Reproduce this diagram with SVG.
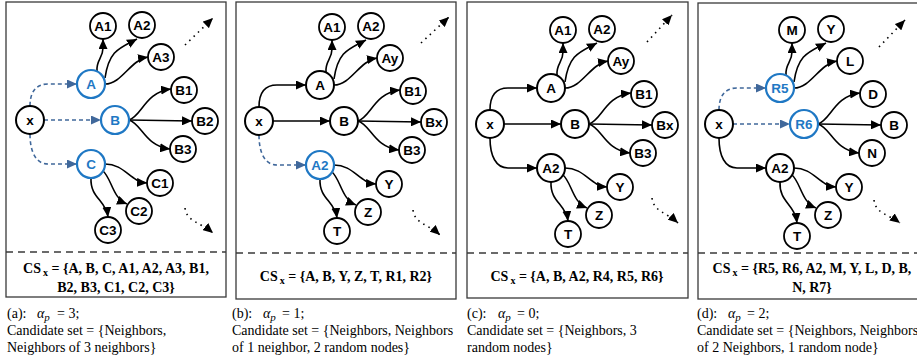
<svg xmlns="http://www.w3.org/2000/svg" width="917" height="360" viewBox="0 0 917 360">
<defs>
<marker id="ah" markerUnits="userSpaceOnUse" markerWidth="11" markerHeight="9" refX="10" refY="4.5" orient="auto"><path d="M0,0 L10,4.5 L0,9 z" fill="#000"/></marker>
<marker id="ahb" markerUnits="userSpaceOnUse" markerWidth="11" markerHeight="9" refX="10" refY="4.5" orient="auto"><path d="M0,0 L10,4.5 L0,9 z" fill="#40689b"/></marker>
</defs>
<style>
.box{fill:none;stroke:#3a3a3a;stroke-width:1.3}
.sep{stroke:#3a3a3a;stroke-width:1.3;stroke-dasharray:7,5}
.n circle{fill:#fff;stroke:#000;stroke-width:1.8}
.m circle{stroke-width:2}
.bl circle{stroke:#1f78c4;stroke-width:2.2}
.n text{font-family:"Liberation Sans",Arial,sans-serif;font-weight:bold;font-size:13.5px;text-anchor:middle;fill:#000}
.bl text{fill:#1f78c4}
.e{fill:none;stroke:#000;stroke-width:1.6;marker-end:url(#ah)}
.d{fill:none;stroke:#40689b;stroke-width:1.6;stroke-dasharray:4,3;marker-end:url(#ahb)}
.dot{fill:none;stroke:#000;stroke-width:1.6;stroke-dasharray:1.5,4.5;marker-end:url(#ah)}
.cs{font-family:"Liberation Serif","Times New Roman",serif;font-weight:bold;font-size:14px;text-anchor:middle}
.cap{font-family:"Liberation Serif","Times New Roman",serif;font-size:14px}
.al{font-style:italic}
</style>
<rect width="917" height="360" fill="#fff"/>

<!-- panel boxes -->
<g id="frames">
<rect class="box" x="6" y="2" width="220" height="295"/>
<line class="sep" x1="6" y1="252" x2="226" y2="252"/>
<rect class="box" x="236" y="2" width="220" height="297"/>
<line class="sep" x1="236" y1="253" x2="456" y2="253"/>
<rect class="box" x="467" y="2" width="221" height="296"/>
<line class="sep" x1="467" y1="253" x2="688" y2="253"/>
<rect class="box" x="698" y="3" width="230" height="296"/>
<line class="sep" x1="698" y1="253" x2="917" y2="253"/>
</g>

<!-- ================= panel (a) ================= -->
<g id="panel-a" transform="translate(30,120)">
<g id="a-connectors">
<path class="d" d="M0,-14 C0,-28 6,-36 18,-36 L47,-36"/>
<path class="d" d="M14,0 L71,0"/>
<path class="d" d="M0,14 C0,32 6,44 18,44 L47,44"/>
<path class="e" d="M67,-49 C66,-60 73,-62 73,-72 L73,-81"/>
<path class="e" d="M75,-42 C79,-70 90,-72 107,-81"/>
<path class="e" d="M75,-36 C92,-36 100,-60 118,-63"/>
<path class="e" d="M99,0 C112,-4 115,-28 141,-31"/>
<path class="e" d="M99,0 L162,1"/>
<path class="e" d="M99,0 C112,4 115,26 140,29"/>
<path class="e" d="M75,44 C95,44 100,62 117,63"/>
<path class="e" d="M72,50 C82,58 82,78 97,84"/>
<path class="e" d="M61,58 C60,78 76,80 78,97"/>
</g>
<g id="a-x" class="n m"><circle cx="0" cy="0" r="14"/><text x="0" y="4.5">x</text></g>
<g id="a-A" class="n bl"><circle cx="61" cy="-36" r="14"/><text x="61" y="-31.5">A</text></g>
<g id="a-B" class="n bl"><circle cx="85" cy="0" r="14"/><text x="85" y="4.5">B</text></g>
<g id="a-C" class="n bl"><circle cx="61" cy="44" r="14"/><text x="61" y="48.5">C</text></g>
<g id="a-A1" class="n"><circle cx="73" cy="-94" r="13"/><text x="73" y="-89.5">A1</text></g>
<g id="a-A2" class="n"><circle cx="112" cy="-95" r="13"/><text x="112" y="-90.5">A2</text></g>
<g id="a-A3" class="n"><circle cx="131" cy="-63" r="13"/><text x="131" y="-58.5">A3</text></g>
<g id="a-B1" class="n"><circle cx="154" cy="-30" r="13"/><text x="154" y="-25.5">B1</text></g>
<g id="a-B2" class="n"><circle cx="175" cy="1" r="13"/><text x="175" y="5.5">B2</text></g>
<g id="a-B3" class="n"><circle cx="153" cy="29" r="13"/><text x="153" y="33.5">B3</text></g>
<g id="a-C1" class="n"><circle cx="130" cy="63" r="13"/><text x="130" y="67.5">C1</text></g>
<g id="a-C2" class="n"><circle cx="109" cy="91" r="13"/><text x="109" y="95.5">C2</text></g>
<g id="a-C3" class="n"><circle cx="78" cy="110" r="13"/><text x="78" y="114.5">C3</text></g>
</g>
<g id="a-more">
<path class="dot" d="M185,45 L213,18"/>
<path class="dot" d="M185,208 C187,222 200,222 213,233"/>
</g>
<text class="cs" x="116" y="273">CS<tspan dx="2" dy="3" font-size="10">x</tspan><tspan dy="-3"> = {A, B, C, A1, A2, A3, B1,</tspan></text>
<text class="cs" x="116" y="292">B2, B3, C1, C2, C3}</text>
<text class="cap" x="7" y="318">(a):<tspan class="al" x="37">α</tspan><tspan class="al" font-size="11" dy="3">p</tspan><tspan x="57" dy="-3">= 3;</tspan></text>
<text class="cap" x="7" y="335">Candidate set = {Neighbors,</text>
<text class="cap" x="7" y="352">Neighbors of 3 neighbors}</text>

<!-- ================= panel (b) ================= -->
<g id="panel-b" transform="translate(259,121)">
<g id="b-connectors">
<path class="e" d="M0,-14 C0,-28 6,-36 18,-36 L47,-36"/>
<path class="e" d="M14,0 L71,0"/>
<path class="d" d="M0,14 C0,32 6,44 18,44 L47,44"/>
<path class="e" d="M67,-49 C66,-60 73,-62 73,-72 L73,-81"/>
<path class="e" d="M75,-42 C79,-70 90,-72 107,-81"/>
<path class="e" d="M75,-36 C92,-36 100,-60 118,-63"/>
<path class="e" d="M99,0 C112,-4 115,-28 141,-31"/>
<path class="e" d="M99,0 L162,1"/>
<path class="e" d="M99,0 C112,4 115,26 140,29"/>
<path class="e" d="M75,44 C95,44 100,62 117,63"/>
<path class="e" d="M72,50 C82,58 82,78 97,84"/>
<path class="e" d="M61,58 C60,78 76,80 78,97"/>
</g>
<g id="b-x" class="n m"><circle cx="0" cy="0" r="14"/><text x="0" y="4.5">x</text></g>
<g id="b-A" class="n m"><circle cx="61" cy="-36" r="14"/><text x="61" y="-31.5">A</text></g>
<g id="b-B" class="n m"><circle cx="85" cy="0" r="14"/><text x="85" y="4.5">B</text></g>
<g id="b-A2c" class="n bl"><circle cx="61" cy="44" r="14"/><text x="61" y="48.5">A2</text></g>
<g id="b-A1" class="n"><circle cx="73" cy="-94" r="13"/><text x="73" y="-89.5">A1</text></g>
<g id="b-A2" class="n"><circle cx="112" cy="-95" r="13"/><text x="112" y="-90.5">A2</text></g>
<g id="b-Ay" class="n"><circle cx="131" cy="-63" r="13"/><text x="131" y="-58.5">Ay</text></g>
<g id="b-B1" class="n"><circle cx="154" cy="-30" r="13"/><text x="154" y="-25.5">B1</text></g>
<g id="b-Bx" class="n"><circle cx="175" cy="1" r="13"/><text x="175" y="5.5">Bx</text></g>
<g id="b-B3" class="n"><circle cx="153" cy="29" r="13"/><text x="153" y="33.5">B3</text></g>
<g id="b-Y" class="n"><circle cx="130" cy="63" r="13"/><text x="130" y="67.5">Y</text></g>
<g id="b-Z" class="n"><circle cx="109" cy="91" r="13"/><text x="109" y="95.5">Z</text></g>
<g id="b-T" class="n"><circle cx="78" cy="110" r="13"/><text x="78" y="114.5">T</text></g>
</g>
<g id="b-more">
<path class="dot" d="M421,43 L449,17"/>
<path class="dot" d="M413,210 C415,224 428,224 440,235"/>
</g>
<text class="cs" x="346" y="281">CS<tspan dx="2" dy="3" font-size="10">x</tspan><tspan dy="-3"> = {A, B, Y, Z, T, R1, R2}</tspan></text>
<text class="cap" x="232" y="318">(b):<tspan class="al" x="263">α</tspan><tspan class="al" font-size="11" dy="3">p</tspan><tspan x="282" dy="-3">= 1;</tspan></text>
<text class="cap" x="232" y="335">Candidate set = {Neighbors, Neighbors</text>
<text class="cap" x="232" y="352">of 1 neighbor, 2 random nodes}</text>

<!-- ================= panel (c) ================= -->
<g id="panel-c" transform="translate(490,124)">
<g id="c-connectors">
<path class="e" d="M0,-14 C0,-28 6,-36 18,-36 L47,-36"/>
<path class="e" d="M14,0 L71,0"/>
<path class="e" d="M0,14 C0,32 6,44 18,44 L47,44"/>
<path class="e" d="M67,-49 C66,-60 73,-62 73,-72 L73,-81"/>
<path class="e" d="M75,-42 C79,-70 90,-72 107,-81"/>
<path class="e" d="M75,-36 C92,-36 100,-60 118,-63"/>
<path class="e" d="M99,0 C112,-4 115,-28 141,-31"/>
<path class="e" d="M99,0 L162,1"/>
<path class="e" d="M99,0 C112,4 115,26 140,29"/>
<path class="e" d="M75,44 C95,44 100,62 117,63"/>
<path class="e" d="M72,50 C82,58 82,78 97,84"/>
<path class="e" d="M61,58 C60,78 76,80 78,97"/>
</g>
<g id="c-x" class="n m"><circle cx="0" cy="0" r="14"/><text x="0" y="4.5">x</text></g>
<g id="c-A" class="n m"><circle cx="61" cy="-36" r="14"/><text x="61" y="-31.5">A</text></g>
<g id="c-B" class="n m"><circle cx="85" cy="0" r="14"/><text x="85" y="4.5">B</text></g>
<g id="c-A2c" class="n m"><circle cx="61" cy="44" r="14"/><text x="61" y="48.5">A2</text></g>
<g id="c-A1" class="n"><circle cx="73" cy="-94" r="13"/><text x="73" y="-89.5">A1</text></g>
<g id="c-A2" class="n"><circle cx="112" cy="-95" r="13"/><text x="112" y="-90.5">A2</text></g>
<g id="c-Ay" class="n"><circle cx="131" cy="-63" r="13"/><text x="131" y="-58.5">Ay</text></g>
<g id="c-B1" class="n"><circle cx="154" cy="-30" r="13"/><text x="154" y="-25.5">B1</text></g>
<g id="c-Bx" class="n"><circle cx="175" cy="1" r="13"/><text x="175" y="5.5">Bx</text></g>
<g id="c-B3" class="n"><circle cx="153" cy="29" r="13"/><text x="153" y="33.5">B3</text></g>
<g id="c-Y" class="n"><circle cx="130" cy="63" r="13"/><text x="130" y="67.5">Y</text></g>
<g id="c-Z" class="n"><circle cx="109" cy="91" r="13"/><text x="109" y="95.5">Z</text></g>
<g id="c-T" class="n"><circle cx="78" cy="110" r="13"/><text x="78" y="114.5">T</text></g>
</g>
<g id="c-more">
<path class="dot" d="M647,42 L672,15"/>
<path class="dot" d="M652,198 C654,212 666,212 678,223"/>
</g>
<text class="cs" x="577" y="281">CS<tspan dx="2" dy="3" font-size="10">x</tspan><tspan dy="-3"> = {A, B, A2, R4, R5, R6}</tspan></text>
<text class="cap" x="467" y="318">(c):<tspan class="al" x="498">α</tspan><tspan class="al" font-size="11" dy="3">p</tspan><tspan x="517" dy="-3">= 0;</tspan></text>
<text class="cap" x="467" y="335">Candidate set = {Neighbors, 3</text>
<text class="cap" x="467" y="352">random nodes}</text>

<!-- ================= panel (d) ================= -->
<g id="panel-d" transform="translate(719,124)">
<g id="d-connectors">
<path class="d" d="M0,-14 C0,-28 6,-36 18,-36 L47,-36"/>
<path class="d" d="M14,0 L71,0"/>
<path class="e" d="M0,14 C0,32 6,44 18,44 L47,44"/>
<path class="e" d="M67,-49 C66,-60 73,-62 73,-72 L73,-81"/>
<path class="e" d="M75,-42 C79,-70 90,-72 107,-81"/>
<path class="e" d="M75,-36 C92,-36 100,-60 118,-63"/>
<path class="e" d="M99,0 C112,-4 115,-28 141,-31"/>
<path class="e" d="M99,0 L162,1"/>
<path class="e" d="M99,0 C112,4 115,26 140,29"/>
<path class="e" d="M75,44 C95,44 100,62 117,63"/>
<path class="e" d="M72,50 C82,58 82,78 97,84"/>
<path class="e" d="M61,58 C60,78 76,80 78,99"/>
</g>
<g id="d-x" class="n m"><circle cx="0" cy="0" r="14"/><text x="0" y="4.5">x</text></g>
<g id="d-R5" class="n bl"><circle cx="61" cy="-36" r="14"/><text x="61" y="-31.5">R5</text></g>
<g id="d-R6" class="n bl"><circle cx="85" cy="0" r="14"/><text x="85" y="4.5">R6</text></g>
<g id="d-A2" class="n m"><circle cx="61" cy="44" r="14"/><text x="61" y="48.5">A2</text></g>
<g id="d-M" class="n"><circle cx="73" cy="-94" r="13"/><text x="73" y="-89.5">M</text></g>
<g id="d-Y1" class="n"><circle cx="112" cy="-95" r="13"/><text x="112" y="-90.5">Y</text></g>
<g id="d-L" class="n"><circle cx="131" cy="-63" r="13"/><text x="131" y="-58.5">L</text></g>
<g id="d-D" class="n"><circle cx="154" cy="-30" r="13"/><text x="154" y="-25.5">D</text></g>
<g id="d-B" class="n"><circle cx="175" cy="1" r="13"/><text x="175" y="5.5">B</text></g>
<g id="d-N" class="n"><circle cx="153" cy="29" r="13"/><text x="153" y="33.5">N</text></g>
<g id="d-Y2" class="n"><circle cx="130" cy="63" r="13"/><text x="130" y="67.5">Y</text></g>
<g id="d-Z" class="n"><circle cx="109" cy="91" r="13"/><text x="109" y="95.5">Z</text></g>
<g id="d-T" class="n"><circle cx="78" cy="112" r="13"/><text x="78" y="116.5">T</text></g>
</g>
<g id="d-more">
<path class="dot" d="M879,47 L905,20"/>
<path class="dot" d="M874,200 C876,214 888,214 900,223"/>
</g>
<text class="cs" x="812" y="273">CS<tspan dx="2" dy="3" font-size="10">x</tspan><tspan dy="-3"> = {R5, R6, A2, M, Y, L, D, B,</tspan></text>
<text class="cs" x="812" y="292">N, R7}</text>
<text class="cap" x="697" y="318">(d):<tspan class="al" x="728">α</tspan><tspan class="al" font-size="11" dy="3">p</tspan><tspan x="747" dy="-3">= 2;</tspan></text>
<text class="cap" x="697" y="335">Candidate set = {Neighbors, Neighbors</text>
<text class="cap" x="697" y="352">of 2 Neighbors, 1 random node}</text>
</svg>
